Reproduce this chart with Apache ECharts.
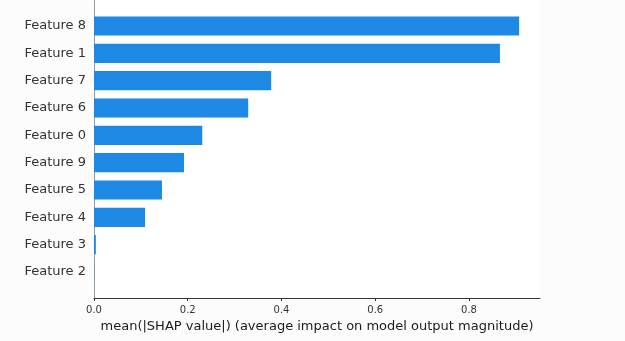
<!DOCTYPE html>
<html>
<head>
<meta charset="utf-8">
<script src="https://cdn.jsdelivr.net/npm/echarts@6/dist/echarts.min.js"></script>
<style>
html,body{margin:0;padding:0;background:#fcfcfc;}
#chart{width:625px;height:341px;}
</style>
</head>
<body>
<div id="chart"></div>
<script>
// Features from bottom (index 0) to top
const features = ["Feature 2","Feature 3","Feature 4","Feature 5","Feature 9","Feature 0","Feature 6","Feature 7","Feature 1","Feature 8"];
const shapValues = [0.0005, 0.004, 0.109, 0.145, 0.192, 0.231, 0.329, 0.378, 0.866, 0.907];
const xTicks = [0.0, 0.2, 0.4, 0.6, 0.8];
const yTicks = [0, 1, 2, 3, 4, 5, 6, 7, 8, 9];
const xLabel = "mean(|SHAP value|) (average impact on model output magnitude)";

const chart = echarts.init(document.getElementById('chart'), null, {renderer:'canvas'});
const font = "DejaVu Sans";
chart.setOption({
  backgroundColor: '#fcfcfc',
  animation: false,
  grid: {left: 94, right: 85, top: 0, bottom: 43, show: true, backgroundColor: '#ffffff', borderWidth: 0,
         containLabel: false, outerBoundsMode: 'none'},
  xAxis: {
    type: 'value', min: 0, max: 0.9515,
    axisLine: {show: true, onZero: false, lineStyle: {color: '#333333', width: 1}},
    axisTick: {show: true, length: 3, customValues: xTicks, lineStyle: {color: '#333333'}},
    splitLine: {show: false},
    axisLabel: {
      fontFamily: font, fontSize: 10, color: '#333333', margin: 7,
      customValues: xTicks,
      formatter: v => v.toFixed(1)
    },
    name: xLabel, nameLocation: 'middle', nameGap: 22,
    nameTextStyle: {fontFamily: font, fontSize: 13, color: '#1a1a1a'}
  },
  yAxis: {
    type: 'value', min: -0.95, max: 9.95,
    axisLine: {show: true, onZero: false, lineStyle: {color: '#999999', width: 1}},
    axisTick: {show: false},
    splitLine: {show: false},
    axisLabel: {
      fontFamily: font, fontSize: 13, color: '#333333', margin: 8,
      customValues: yTicks,
      formatter: v => features[Math.round(v)] || ''
    }
  },
  series: [{
    type: 'custom',
    renderItem: function (params, api) {
      const v = api.value(0), y = api.value(1);
      const p0 = api.coord([0, y + 0.35]);
      const p1 = api.coord([v, y - 0.35]);
      return {type: 'rect', shape: {x: p0[0], y: p0[1], width: p1[0] - p0[0], height: p1[1] - p0[1]}, style: {fill: '#1E88E5'}};
    },
    data: shapValues.map((v, i) => [v, i])
  }]
});
</script>
</body>
</html>
